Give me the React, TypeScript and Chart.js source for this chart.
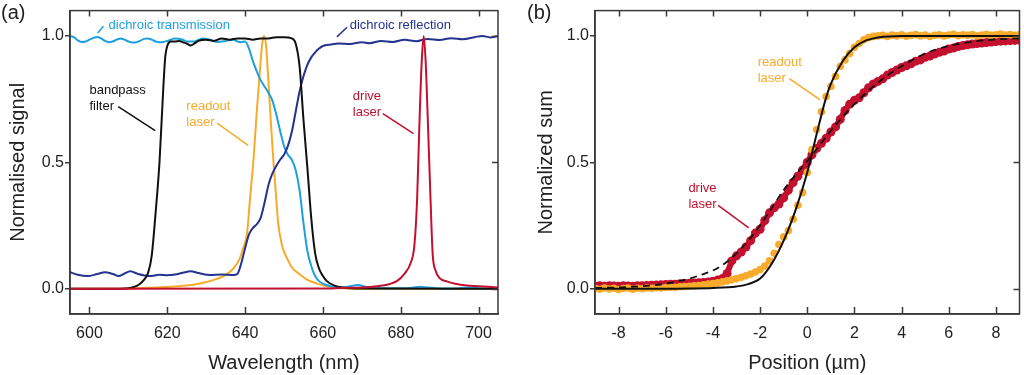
import React, { useEffect, useRef } from 'react';
import { Chart, registerables } from 'chart.js';

Chart.register(...registerables);

const FONT = '"Liberation Sans", Arial, Helvetica, sans-serif';
const FRAME = '#3a3a3a';
const TEXT = '#222222';
const LT_BLUE = '#1ea0e0';
const DK_BLUE = '#23338f';
const ORANGE = '#f8ab2a';
const RED = '#c3102e';
const BLACK = '#111111';

// ---------- Panel (a): spectra vs wavelength (nm) ----------
const wavelengthTicks = [600, 620, 640, 660, 680, 700];
const signalTicks = [0, 0.5, 1.0];

const bandpassFilter: [number, number][] = [
  [595, 0], [605, 0], [610, 0.002], [612, 0.01], [613, 0.02], [614, 0.035], [615, 0.06], [616, 0.13],
  [617, 0.3], [618, 0.5], [619, 0.8], [619.5, 0.92], [620, 0.96], [620.5, 0.975], [621, 0.978], [622, 0.978],
  [623, 0.98], [624, 0.975], [625, 0.97], [626, 0.962], [627, 0.97], [628, 0.98], [630, 0.985], [632, 0.98],
  [634, 0.99], [636, 0.985], [638, 0.99], [640, 0.99], [642, 0.985], [644, 0.99], [646, 0.99], [648, 0.995],
  [650, 0.995], [652, 0.99], [653, 0.97], [654, 0.88], [655, 0.67], [656, 0.48], [657, 0.28], [658, 0.14],
  [659, 0.08], [660, 0.05], [661, 0.03], [663, 0.012], [665, 0.005], [670, 0.001], [705, 0],
];

const dichroicTransmission: [number, number][] = [
  [595, 1.0], [596, 0.995], [597, 0.982], [598, 0.976], [599, 0.978], [600, 0.985], [601, 0.992], [602, 0.996],
  [603, 0.99], [604, 0.98], [605, 0.975], [606, 0.978], [607, 0.985], [608, 0.99], [609, 0.985], [610, 0.978],
  [611, 0.974], [612, 0.975], [613, 0.98], [614, 0.988], [615, 0.99], [616, 0.985], [617, 0.978], [618, 0.975],
  [619, 0.976], [620, 0.98], [622, 0.99], [624, 0.985], [625, 0.978], [627, 0.978], [629, 0.99], [631, 0.985],
  [633, 0.976], [635, 0.98], [637, 0.985], [638, 0.978], [639, 0.975], [640, 0.978], [641, 0.95], [642, 0.9],
  [643, 0.86], [644, 0.825], [645, 0.8], [646, 0.775], [647, 0.745], [648, 0.69], [649, 0.625], [650, 0.565],
  [651, 0.53], [652, 0.51], [653, 0.47], [654, 0.39], [655, 0.26], [656, 0.15], [657, 0.09], [658, 0.05],
  [659, 0.03], [660, 0.02], [662, 0.01], [665, 0.005], [667, 0.01], [669, 0.015], [671, 0.008], [673, 0.002],
  [680, 0.002], [683, 0.004], [685, 0.008], [687, 0.005], [690, 0.001], [695, 0.002], [698, 0.005], [700, 0.002],
  [705, 0],
];

const dichroicReflection: [number, number][] = [
  [595, 0.065], [597, 0.055], [599.5, 0.05], [602, 0.058], [604, 0.065], [606, 0.058], [607.5, 0.05], [609, 0.06],
  [610.5, 0.069], [612.5, 0.058], [615.5, 0.05], [618, 0.055], [620, 0.053], [622, 0.056], [624, 0.063], [626, 0.069],
  [628, 0.062], [631, 0.054], [634, 0.056], [637, 0.054], [638, 0.058], [639, 0.1], [640, 0.16], [641, 0.215],
  [642, 0.24], [643, 0.255], [644, 0.28], [645, 0.34], [646, 0.41], [647, 0.455], [648, 0.485], [649, 0.51],
  [650, 0.53], [651, 0.565], [652, 0.62], [653, 0.7], [654, 0.78], [655, 0.84], [656, 0.885], [657, 0.915],
  [658, 0.935], [659, 0.95], [660, 0.96], [662, 0.966], [664, 0.97], [667, 0.968], [670, 0.975], [672, 0.971],
  [675, 0.98], [678, 0.976], [681, 0.985], [684, 0.979], [687, 0.988], [690, 0.984], [693, 0.991], [696, 0.987],
  [699, 0.995], [701, 1.0], [703, 0.994], [705, 1.0],
];

const readoutSpectrum: [number, number][] = [
  [595, 0], [605, 0], [611, 0.001], [615, 0.004], [620, 0.007], [625, 0.013], [629, 0.023], [632, 0.035],
  [635, 0.055], [637, 0.08], [638.5, 0.115], [639.5, 0.16], [640.5, 0.22], [641.3, 0.36], [642.2, 0.52], [643, 0.7],
  [643.8, 0.86], [644.4, 0.97], [644.9, 1.0], [645.4, 0.96], [646, 0.82], [646.7, 0.64], [647.3, 0.5], [647.8, 0.4],
  [648.5, 0.26], [649.5, 0.17], [650.8, 0.12], [652, 0.085], [654, 0.057], [656, 0.035], [658.5, 0.02], [661, 0.01],
  [663.6, 0.005], [666, 0.001], [670, 0], [705, 0],
];

const driveSpectrum: [number, number][] = [
  [595, 0], [660, 0.001], [665, 0.003], [670, 0.005], [674, 0.01], [677, 0.018], [679, 0.03], [681, 0.06],
  [682.5, 0.1], [683.5, 0.17], [684.2, 0.35], [684.8, 0.65], [685.4, 0.9], [685.9, 1.0], [686.4, 0.9], [687, 0.65],
  [687.6, 0.38], [688.2, 0.14], [689, 0.07], [690, 0.042], [692, 0.028], [694, 0.02], [697, 0.013], [700, 0.01],
  [705, 0.005],
];

// ---------- Panel (b): normalized sum vs position (µm) ----------
const positionTicks = [-8, -6, -4, -2, 0, 2, 4, 6, 8];
const sumTicks = [0, 0.5, 1.0];

const readoutFit: [number, number][] = [
  [-9, 0], [-6, 0], [-5, 0.001], [-4, 0.003], [-3, 0.009], [-2.5, 0.018], [-2, 0.04], [-1.5, 0.1],
  [-1, 0.19], [-0.5, 0.31], [0, 0.46], [0.25, 0.555], [0.5, 0.65], [0.75, 0.74], [1, 0.81], [1.5, 0.9],
  [2, 0.955], [2.5, 0.982], [3, 0.994], [4, 1.0], [9, 1.0],
];

const driveFit: [number, number][] = [
  [-9, 0.003], [-8, 0.005], [-7, 0.01], [-6, 0.02], [-5, 0.04], [-4.5, 0.055], [-4, 0.072], [-3.5, 0.1],
  [-3, 0.14], [-2.5, 0.19], [-2, 0.25], [-1.5, 0.32], [-1, 0.39], [-0.5, 0.45], [0, 0.505], [0.5, 0.565],
  [1, 0.625], [1.5, 0.68], [2, 0.73], [2.5, 0.775], [3, 0.815], [3.5, 0.85], [4, 0.88], [5, 0.93],
  [6, 0.96], [7, 0.977], [8, 0.986], [9, 0.99],
];

const readoutPoints: [number, number][] = [
  [-9.0, 0.002], [-8.8, -0.002], [-8.6, 0.003], [-8.4, -0.001], [-8.2, 0.002], [-8.0, -0.003], [-7.8, 0.001],
  [-7.6, 0.003], [-7.4, -0.002], [-7.2, 0.002], [-7.0, 0.0], [-6.8, 0.003], [-6.6, 0.002], [-6.4, 0.004],
  [-6.2, 0.003], [-6.0, 0.005], [-5.8, 0.006], [-5.6, 0.006], [-5.4, 0.008], [-5.2, 0.009], [-5.0, 0.01],
  [-4.8, 0.012], [-4.6, 0.013], [-4.4, 0.015], [-4.2, 0.018], [-4.0, 0.02], [-3.8, 0.023], [-3.6, 0.027],
  [-3.4, 0.031], [-3.2, 0.035], [-3.0, 0.04], [-2.8, 0.045], [-2.6, 0.051], [-2.4, 0.058], [-2.2, 0.066],
  [-2.0, 0.076], [-1.8, 0.09], [-1.6, 0.11], [-1.4, 0.14], [-1.2, 0.175], [-1.0, 0.205], [-0.8, 0.23],
  [-0.6, 0.275], [-0.4, 0.33], [-0.2, 0.38], [0.0, 0.46], [0.2, 0.55], [0.4, 0.63], [0.6, 0.7],
  [0.8, 0.76], [1.0, 0.8], [1.2, 0.84], [1.4, 0.88], [1.6, 0.905], [1.8, 0.93], [2.0, 0.955],
  [2.2, 0.97], [2.4, 0.985], [2.6, 0.993], [2.8, 0.998], [3.0, 1.0], [3.2, 1.002], [3.4, 0.998],
  [3.6, 1.003], [3.8, 1.0], [4.0, 1.004], [4.2, 0.999], [4.4, 1.002], [4.6, 1.005], [4.8, 1.0],
  [5.0, 1.003], [5.2, 0.998], [5.4, 1.002], [5.6, 1.004], [5.8, 1.0], [6.0, 1.003], [6.2, 1.006],
  [6.4, 1.001], [6.6, 1.004], [6.8, 1.002], [7.0, 1.005], [7.2, 1.0], [7.4, 1.003], [7.6, 1.006],
  [7.8, 1.002], [8.0, 1.004], [8.2, 1.007], [8.4, 1.003], [8.6, 1.005], [8.8, 1.002], [9.0, 1.005],
];

const drivePoints: [number, number][] = [
  [-9.0, 0.01], [-8.8, 0.012], [-8.6, 0.01], [-8.4, 0.012], [-8.2, 0.011], [-8.0, 0.01], [-7.8, 0.012],
  [-7.6, 0.011], [-7.4, 0.01], [-7.2, 0.012], [-7.0, 0.012], [-6.8, 0.013], [-6.6, 0.014], [-6.4, 0.015],
  [-6.2, 0.016], [-6.0, 0.017], [-5.8, 0.018], [-5.6, 0.018], [-5.4, 0.02], [-5.2, 0.021], [-5.0, 0.022],
  [-4.8, 0.023], [-4.6, 0.024], [-4.4, 0.025], [-4.2, 0.027], [-4.0, 0.03], [-3.8, 0.034], [-3.6, 0.04],
  [-3.4, 0.06], [-3.2, 0.11], [-3.0, 0.13], [-2.8, 0.145], [-2.6, 0.165], [-2.4, 0.19], [-2.2, 0.22],
  [-2.0, 0.235], [-1.8, 0.27], [-1.6, 0.3], [-1.4, 0.32], [-1.2, 0.335], [-1.0, 0.36], [-0.8, 0.39],
  [-0.6, 0.42], [-0.4, 0.445], [-0.2, 0.47], [0.0, 0.5], [0.2, 0.53], [0.4, 0.555], [0.6, 0.575],
  [0.8, 0.595], [1.0, 0.62], [1.2, 0.64], [1.4, 0.67], [1.6, 0.705], [1.8, 0.73], [2.0, 0.745],
  [2.2, 0.755], [2.4, 0.775], [2.6, 0.795], [2.8, 0.81], [3.0, 0.82], [3.2, 0.83], [3.4, 0.845],
  [3.6, 0.855], [3.8, 0.865], [4.0, 0.875], [4.2, 0.882], [4.4, 0.89], [4.6, 0.9], [4.8, 0.905],
  [5.0, 0.915], [5.2, 0.92], [5.4, 0.928], [5.6, 0.935], [5.8, 0.94], [6.0, 0.948], [6.2, 0.952],
  [6.4, 0.958], [6.6, 0.962], [6.8, 0.965], [7.0, 0.968], [7.2, 0.97], [7.4, 0.972], [7.6, 0.974],
  [7.8, 0.976], [8.0, 0.978], [8.2, 0.979], [8.4, 0.98], [8.6, 0.981], [8.8, 0.982], [9.0, 0.983],
];

// ---------- Annotations (in data coordinates) ----------
type Note = { lines: string[]; x: number; y: number; color: string; from: [number, number]; to: [number, number] };

const notesA: Note[] = [
  { lines: ['dichroic transmission'], x: 604.9, y: 1.042, color: LT_BLUE, from: [602.1, 1.011], to: [603.6, 1.038] },
  { lines: ['dichroic reflection'], x: 666.9, y: 1.042, color: DK_BLUE, from: [663.6, 0.996], to: [666.2, 1.034] },
  { lines: ['bandpass', 'filter'], x: 600.0, y: 0.785, color: BLACK, from: [607.4, 0.72], to: [616.9, 0.625] },
  { lines: ['readout', 'laser'], x: 624.9, y: 0.72, color: ORANGE, from: [632.8, 0.655], to: [640.8, 0.567] },
  { lines: ['drive', 'laser'], x: 667.7, y: 0.762, color: RED, from: [675.4, 0.693], to: [683.3, 0.613] },
];

const notesB: Note[] = [
  { lines: ['readout', 'laser'], x: -2.1, y: 0.897, color: ORANGE, from: [-0.76, 0.831], to: [0.55, 0.747] },
  { lines: ['drive', 'laser'], x: -5.04, y: 0.395, color: RED, from: [-3.78, 0.33], to: [-2.48, 0.241] },
];

function makeDeco(panelLabel: string, labelX: number, notes: Note[]) {
  return {
    id: 'deco' + panelLabel,
    afterDatasetsDraw(chart: any) {
      const ctx = chart.ctx;
      const xs = chart.scales.x;
      const ys = chart.scales.y;
      ctx.save();
      ctx.font = `13px ${FONT}`;
      ctx.textBaseline = 'middle';
      ctx.textAlign = 'left';
      for (const n of notes) {
        ctx.fillStyle = n.color;
        const tx = xs.getPixelForValue(n.x);
        const ty = ys.getPixelForValue(n.y);
        n.lines.forEach((l, i) => ctx.fillText(l, tx, ty + i * 16));
        ctx.strokeStyle = n.color;
        ctx.lineWidth = 1.5;
        ctx.beginPath();
        ctx.moveTo(xs.getPixelForValue(n.from[0]), ys.getPixelForValue(n.from[1]));
        ctx.lineTo(xs.getPixelForValue(n.to[0]), ys.getPixelForValue(n.to[1]));
        ctx.stroke();
      }
      ctx.restore();
    },
    afterDraw(chart: any) {
      const ctx = chart.ctx;
      const { left, right, top, bottom } = chart.chartArea;
      const xs = chart.scales.x;
      const ys = chart.scales.y;
      ctx.save();
      ctx.strokeStyle = FRAME;
      ctx.lineWidth = 1.5;
      ctx.strokeRect(left, top, right - left, bottom - top);
      ctx.beginPath();
      for (const t of xs.ticks) {
        const px = Math.round(xs.getPixelForValue(t.value)) + 0.5;
        ctx.moveTo(px, bottom);
        ctx.lineTo(px, bottom - 7);
        ctx.moveTo(px, top);
        ctx.lineTo(px, top + 6);
      }
      for (const t of ys.ticks) {
        const py = Math.round(ys.getPixelForValue(t.value)) + 0.5;
        ctx.moveTo(right, py);
        ctx.lineTo(right - 6, py);
      }
      ctx.stroke();
      ctx.fillStyle = TEXT;
      ctx.font = `20px ${FONT}`;
      ctx.textBaseline = 'middle';
      ctx.textAlign = 'left';
      ctx.fillText(panelLabel, labelX, 13);
      ctx.restore();
    },
  };
}

const toXY = (arr: [number, number][]) => arr.map(([x, y]) => ({ x, y }));

const lineDs = (arr: [number, number][], color: string, extra: any = {}) => ({
  data: toXY(arr),
  borderColor: color,
  backgroundColor: color,
  borderWidth: 2,
  showLine: true,
  pointRadius: 0,
  cubicInterpolationMode: 'monotone',
  fill: false,
  ...extra,
});

const dotDs = (arr: [number, number][], color: string, r: number, lineW: number) => ({
  data: toXY(arr),
  backgroundColor: color,
  borderColor: color,
  pointBackgroundColor: color,
  borderWidth: lineW,
  pointBorderWidth: 0,
  pointRadius: r,
  showLine: lineW > 0,
  tension: 0,
});

function axisCommon(ticksArr: number[], fmt: (v: number) => string) {
  return {
    afterBuildTicks: (s: any) => {
      s.ticks = ticksArr.map((v) => ({ value: v }));
    },
    ticks: {
      color: TEXT,
      font: { family: FONT, size: 16 },
      callback: (v: any) => fmt(Number(v)),
      maxRotation: 0,
      autoSkip: false,
    },
  };
}

function buildConfig(opts: {
  datasets: any[];
  xMin: number; xMax: number; xTicks: number[]; xTitle: string;
  yTicks: number[]; yTitle: string; yWidth: number; yTitlePad: number;
  padRight: number; plugin: any;
}) {
  const xc = axisCommon(opts.xTicks, (v) => String(v));
  const yc = axisCommon(opts.yTicks, (v) => v.toFixed(1));
  return {
    type: 'scatter',
    data: { datasets: opts.datasets },
    options: {
      responsive: false,
      maintainAspectRatio: false,
      animation: false,
      devicePixelRatio: 1,
      events: [],
      layout: { padding: { top: 1, right: opts.padRight, left: 0, bottom: 0 } },
      plugins: { legend: { display: false }, tooltip: { enabled: false } },
      scales: {
        x: {
          type: 'linear',
          min: opts.xMin,
          max: opts.xMax,
          afterBuildTicks: xc.afterBuildTicks,
          afterFit: (s: any) => { s.height = 61; },
          grid: { display: false, drawTicks: false },
          border: { display: true, color: FRAME, width: 1.5 },
          ticks: { ...xc.ticks, padding: 10 },
          title: {
            display: true, text: opts.xTitle, color: TEXT,
            font: { family: FONT, size: 20 }, padding: { top: 0, bottom: 0 },
          },
        },
        y: {
          type: 'linear',
          min: -0.1,
          max: 1.1,
          afterBuildTicks: yc.afterBuildTicks,
          afterFit: (s: any) => { s.width = opts.yWidth; },
          grid: { display: true, drawOnChartArea: false, drawTicks: true, tickLength: 5, color: FRAME, lineWidth: 1.5 },
          border: { display: true, color: FRAME, width: 1.5 },
          ticks: { ...yc.ticks, padding: 1 },
          title: {
            display: true, text: opts.yTitle, color: TEXT,
            font: { family: FONT, size: 20 }, padding: { top: opts.yTitlePad, bottom: 0 },
          },
        },
      },
    },
    plugins: [opts.plugin],
  };
}

function Panel({ left, config }: { left: number; config: any }) {
  const ref = useRef<HTMLCanvasElement | null>(null);
  useEffect(() => {
    if (!ref.current) return;
    const chart = new Chart(ref.current, config);
    return () => chart.destroy();
  }, [config]);
  return (
    <canvas
      ref={ref}
      width={512}
      height={375}
      style={{ position: 'absolute', left, top: 0, width: 512, height: 375 }}
    />
  );
}

const configA = buildConfig({
  datasets: [
    lineDs(driveSpectrum, RED),
    lineDs(bandpassFilter, BLACK),
    lineDs(dichroicReflection, DK_BLUE),
    lineDs(dichroicTransmission, LT_BLUE),
    lineDs(readoutSpectrum, ORANGE),
  ],
  xMin: 595, xMax: 705, xTicks: wavelengthTicks, xTitle: 'Wavelength (nm)',
  yTicks: signalTicks, yTitle: 'Normalised signal', yWidth: 70, yTitlePad: 6,
  padRight: 14, plugin: makeDeco('(a)', 1, notesA),
});

const configB = buildConfig({
  datasets: [
    lineDs(readoutFit, BLACK, { borderWidth: 2, cubicInterpolationMode: 'monotone' }),
    lineDs(driveFit, BLACK, { borderWidth: 1.8, borderDash: [7, 5] }),
    dotDs(readoutPoints, ORANGE, 3.8, 0),
    dotDs(drivePoints, RED, 4.5, 6),
  ],
  xMin: -9, xMax: 9, xTicks: positionTicks, xTitle: 'Position (µm)',
  yTicks: sumTicks, yTitle: 'Normalized sum', yWidth: 83, yTitlePad: 22,
  padRight: 2, plugin: makeDeco('(b)', 15, notesB),
});

export default function App() {
  return (
    <div style={{ position: 'absolute', left: 0, top: 0, width: 1024, height: 375, background: '#fff', overflow: 'hidden' }}>
      <Panel left={0} config={configA} />
      <Panel left={512} config={configB} />
    </div>
  );
}
